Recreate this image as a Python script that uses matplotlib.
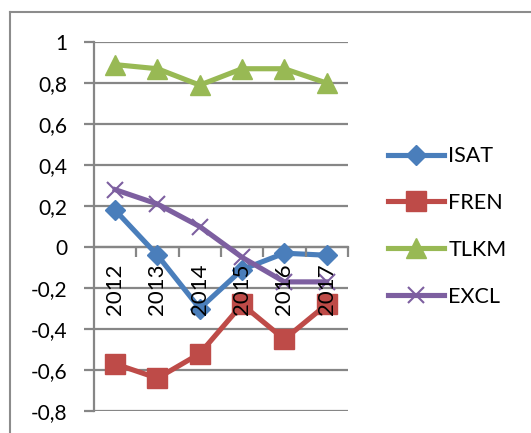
import matplotlib
matplotlib.use("Agg")
import matplotlib.pyplot as plt
from matplotlib.lines import Line2D
from matplotlib.ticker import FixedLocator, FuncFormatter

years = ["2012", "2013", "2014", "2015", "2016", "2017"]
isat = [0.18, -0.04, -0.30, -0.11, -0.03, -0.04]
fren = [-0.57, -0.64, -0.52, -0.28, -0.45, -0.28]
tlkm = [0.89, 0.87, 0.79, 0.87, 0.87, 0.80]
excl = [0.28, 0.21, 0.10, -0.05, -0.17, -0.17]
y_ticks = [-0.8, -0.6, -0.4, -0.2, 0, 0.2, 0.4, 0.6, 0.8, 1]

plt.rcParams['font.family'] = ['Lato', 'DejaVu Sans']
GRID = '#868686'

fig = plt.figure(figsize=(5.31, 4.33), dpi=100)
ax = fig.add_axes([0.177, 0.0508, 0.478, 0.852])

x = list(range(len(years)))
ax.plot(x, isat, color='#4a7ebb', lw=3.7, marker='D', markersize=10, label='ISAT', zorder=3)
ax.plot(x, fren, color='#be4b48', lw=3.7, marker='s', markersize=15, label='FREN', zorder=3)
ax.plot(x, tlkm, color='#98b954', lw=3.7, marker='^', markersize=14, label='TLKM', zorder=3)
ax.plot(x, excl, color='#7d5fa0', lw=3.7, marker='x', markersize=12, markeredgewidth=1.5,
        label='EXCL', zorder=3)

ax.set_xlim(-0.5, 5.5)
ax.set_ylim(-0.8, 1)
ax.set_yticks(y_ticks)
ax.yaxis.set_major_formatter(FuncFormatter(lambda v, p: ('%g' % round(v, 1)).replace('.', ',')))
ax.yaxis.grid(True, color=GRID, lw=1.6)
ax.set_axisbelow(True)
# category labels sit on top of the lines, like in the Excel chart
ax.xaxis.set_zorder(4)

for s in ['top', 'right']:
    ax.spines[s].set_visible(False)
ax.spines['left'].set_color(GRID)
ax.spines['left'].set_linewidth(1.6)
ax.spines['bottom'].set_position(('data', 0))
ax.spines['bottom'].set_color(GRID)
ax.spines['bottom'].set_linewidth(1.6)
ax.spines['bottom'].set_zorder(1)

ax.set_xticks(x)
ax.set_xticklabels(years, rotation=90, fontsize=16)
ax.xaxis.set_minor_locator(FixedLocator([i + 0.5 for i in x]))
ax.tick_params(axis='x', which='major', length=0, pad=12)
ax.tick_params(axis='x', which='minor', length=7, width=1.6, color=GRID, direction='out')
ax.tick_params(axis='y', length=7, width=1.6, color=GRID, pad=12, labelsize=15)

ax.legend(loc='center left', bbox_to_anchor=(0.731, 0.477), bbox_transform=fig.transFigure,
          frameon=False, fontsize=15.5, handlelength=2.6, handletextpad=0.2,
          labelspacing=1.25, borderpad=0, borderaxespad=0)

# outer chart frame
fig.add_artist(Line2D([10 / 531, 10 / 531], [0, 1 - 12 / 433], transform=fig.transFigure,
                      color='#8c8c8c', lw=1.5))
fig.add_artist(Line2D([10 / 531, 1], [1 - 12 / 433, 1 - 12 / 433], transform=fig.transFigure,
                      color='#8c8c8c', lw=1.5))

fig.savefig("out.png", dpi=100)
